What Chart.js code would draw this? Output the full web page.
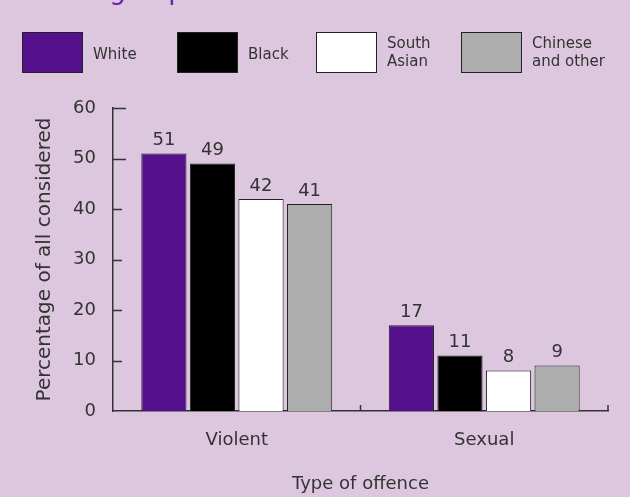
<!DOCTYPE html>
<html lang="en">
<head>
<meta charset="UTF-8">
<title>Type of offence</title>
<script src="https://cdn.jsdelivr.net/npm/chart.js"></script>
<style>
  body { margin: 0; background: #ddc7df; }
  .wrap { position: relative; width: 630px; height: 497px; overflow: hidden; }
  .heading {
    position: absolute; left: 20px; top: -23px; margin: 0;
    font: 26px/26px "DejaVu Sans", sans-serif; color: #6a1fb0; white-space: nowrap;
  }
  canvas { position: absolute; left: 0; top: 0; }
</style>
</head>
<body>
<div class="wrap">
  <p class="heading">Ethnic group</p>
  <canvas id="offenceChart" width="630" height="497"></canvas>
</div>
<script>
// data
const categories = ['Violent', 'Sexual'];
const seriesNames = [['White'], ['Black'], ['South', 'Asian'], ['Chinese', 'and other']];
const seriesColors = ['#55108c', '#000000', '#ffffff', '#adadad'];
const white = [51, 17];
const black = [49, 11];
const southAsian = [42, 8];
const chineseOther = [41, 9];
const yTicks = [0, 10, 20, 30, 40, 50, 60];

const seriesValues = [white, black, southAsian, chineseOther];
const ink = '#333333';
const fontFamily = '"DejaVu Sans", sans-serif';

// legend drawn on top, boxes with labels to the right
const legendPlugin = {
  id: 'topLegend',
  afterDraw(chart) {
    const ctx = chart.ctx;
    const boxX = [22, 177, 316, 461];
    ctx.save();
    ctx.font = '15px ' + fontFamily;
    ctx.textBaseline = 'middle';
    ctx.textAlign = 'left';
    seriesNames.forEach((lines, i) => {
      ctx.fillStyle = seriesColors[i];
      ctx.fillRect(boxX[i], 32, 60, 40);
      ctx.strokeStyle = '#222';
      ctx.lineWidth = 1;
      ctx.strokeRect(boxX[i] + 0.5, 32.5, 60, 40);
      ctx.fillStyle = ink;
      if (lines.length === 1) {
        ctx.fillText(lines[0], boxX[i] + 71, 55);
      } else {
        ctx.fillText(lines[0], boxX[i] + 71, 44);
        ctx.fillText(lines[1], boxX[i] + 71, 62);
      }
    });
    ctx.restore();
  }
};

// values over the bars
const valuePlugin = {
  id: 'barValues',
  afterDatasetsDraw(chart) {
    const ctx = chart.ctx;
    ctx.save();
    ctx.font = '18px ' + fontFamily;
    ctx.fillStyle = ink;
    ctx.textAlign = 'center';
    ctx.textBaseline = 'bottom';
    chart.data.datasets.forEach((ds, i) => {
      chart.getDatasetMeta(i).data.forEach((bar, j) => {
        ctx.fillText(ds.data[j], bar.x, bar.y - 4);
      });
    });
    ctx.restore();
  }
};

// inward tick marks on both axes
const tickPlugin = {
  id: 'innerTicks',
  afterDraw(chart) {
    const ctx = chart.ctx;
    const x = chart.scales.x, y = chart.scales.y;
    const area = chart.chartArea;
    ctx.save();
    ctx.strokeStyle = ink;
    ctx.lineWidth = 1.5;
    ctx.beginPath();
    yTicks.forEach(v => {
      if (v === 0) return;
      const py = Math.round(y.getPixelForValue(v)) + 0.5;
      const len = v >= 50 ? 13 : 9;
      ctx.moveTo(area.left, py);
      ctx.lineTo(area.left + len, py);
    });
    for (let i = 0; i < categories.length; i++) {
      const px = i < categories.length - 1
        ? (x.getPixelForValue(i) + x.getPixelForValue(i + 1)) / 2
        : area.right;
      ctx.moveTo(px, area.bottom);
      ctx.lineTo(px, area.bottom - 6);
    }
    ctx.stroke();
    ctx.restore();
  }
};

const datasets = seriesNames.map((name, i) => ({
  label: name.join(' '),
  data: seriesValues[i],
  backgroundColor: seriesColors[i],
  borderColor: '#222',
  borderWidth: 1,
  categoryPercentage: 0.785,
  barPercentage: 0.93
}));

const ctx = document.getElementById('offenceChart').getContext('2d');
new Chart(ctx, {
  type: 'bar',
  data: { labels: categories, datasets: datasets },
  options: {
    responsive: false,
    animation: false,
    layout: { padding: { top: 108, right: 22, left: 0, bottom: 0 } },
    plugins: {
      legend: { display: false },
      tooltip: { enabled: false }
    },
    scales: {
      x: {
        grid: { display: false },
        border: { display: true, color: ink, width: 1.5 },
        ticks: { color: ink, padding: 11, font: { size: 18, family: fontFamily } },
        title: {
          display: true, text: 'Type of offence', color: ink,
          padding: { top: 0, bottom: 2 },
          font: { size: 18, family: fontFamily }
        },
        afterFit(scale) { scale.height = 86; }
      },
      y: {
        min: 0, max: 60,
        afterBuildTicks(scale) { scale.ticks = yTicks.map(v => ({ value: v })); },
        grid: { display: false },
        border: { display: true, color: ink, width: 1.5 },
        ticks: { color: ink, padding: 9, font: { size: 18, family: fontFamily } },
        title: {
          display: true, text: 'Percentage of all considered', color: ink,
          padding: { top: 33, bottom: 0 },
          font: { size: 20, family: fontFamily }
        },
        afterFit(scale) { scale.width = 113; }
      }
    }
  },
  plugins: [legendPlugin, valuePlugin, tickPlugin]
});
</script>
</body>
</html>
